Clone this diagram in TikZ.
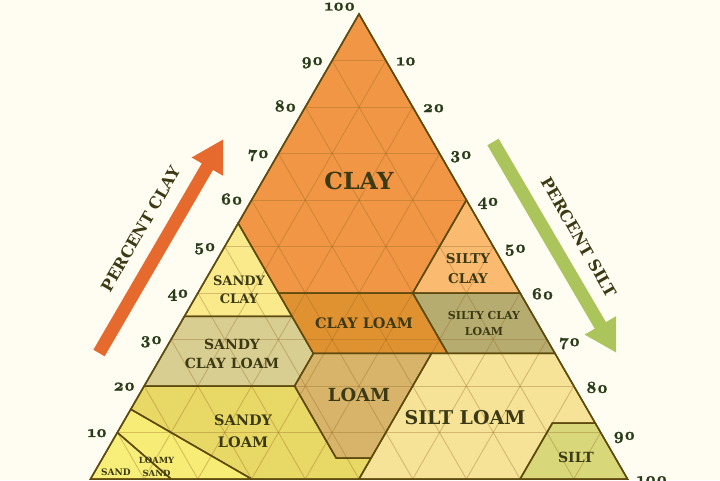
\documentclass[tikz,border=0pt]{standalone}
\usepackage{fontspec}
\setmainfont{DejaVu Serif}
\newfontfamily\numfont{lmroman10-bold}[Extension=.otf, Numbers=OldStyle, FakeBold=1.5]
\usetikzlibrary{arrows.meta}
\definecolor{bg}{RGB}{255,253,241}
\definecolor{cClay}{RGB}{240,150,68}
\definecolor{cSandyClay}{RGB}{250,234,140}
\definecolor{cSiltyClay}{RGB}{250,186,112}
\definecolor{cClayLoam}{RGB}{225,146,48}
\definecolor{cSiltyClayLoam}{RGB}{182,172,112}
\definecolor{cSandyClayLoam}{RGB}{216,206,146}
\definecolor{cLoam}{RGB}{216,180,106}
\definecolor{cSiltLoam}{RGB}{246,227,152}
\definecolor{cSilt}{RGB}{216,216,122}
\definecolor{cSandyLoam}{RGB}{232,216,102}
\definecolor{cLoamySand}{RGB}{246,236,118}
\definecolor{cSand}{RGB}{248,238,122}
\definecolor{gridc}{RGB}{150,105,35}
\definecolor{borderc}{RGB}{95,75,15}
\definecolor{txtc}{RGB}{60,58,20}
\definecolor{numc}{RGB}{40,60,25}
\definecolor{arrClay}{RGB}{230,105,45}
\definecolor{arrSilt}{RGB}{172,196,92}
\def\polyClay{(0,100) -- (0,55) -- (15,40) -- (40,40) -- (40,60) -- cycle}
\def\polySandyClay{(0,55) -- (0,35) -- (20,35) -- cycle}
\def\polySiltyClay{(40,60) -- (40,40) -- (60,40) -- cycle}
\def\polyClayLoam{(15,40) -- (28,27) -- (53,27) -- (40,40) -- cycle}
\def\polySiltyClayLoam{(40,40) -- (53,27) -- (73,27) -- (60,40) -- cycle}
\def\polySandyClayLoam{(0,35) -- (0,20) -- (28,20) -- (28,27) -- (20,35) -- cycle}
\def\polyLoam{(28,27) -- (28,20) -- (43.5,4.5) -- (50,4.5) -- (50,27) -- cycle}
\def\polySiltLoam{(50,27) -- (73,27) -- (88,12) -- (80,12) -- (80,0) -- (50,0) -- (50,4.5) -- cycle}
\def\polySilt{(80,12) -- (88,12) -- (100,0) -- (80,0) -- cycle}
\def\polySandyLoam{(0,20) -- (28,20) -- (43.5,4.5) -- (50,4.5) -- (50,0) -- (30,0) -- (0,15) -- cycle}
\def\polyLoamySand{(0,15) -- (30,0) -- (15,0) -- (0,10) -- cycle}
\def\polySand{(0,10) -- (15,0) -- (0,0) -- cycle}
\begin{document}
\begin{tikzpicture}[x=1pt,y=1pt,
  gridline/.style={draw=gridc, draw opacity=0.35, line width=0.9pt},
  border/.style={draw=borderc, line width=1.5pt, line join=miter},
  lab/.style={text=txtc, inner sep=0pt, align=center, font=\bfseries},
  num/.style={text=numc, inner sep=0pt, anchor=base, font=\numfont\fontsize{17}{17}\selectfont},
  bigarrow/.style={line width=13pt, -{Triangle[width=34pt,length=32pt]}}]
\fill[bg] (0,0) rectangle (720,480);
\useasboundingbox (0,0) rectangle (720,480);
\begin{scope}[shift={(90.5,1)}, x={(5.37pt,0pt)}, y={(2.685pt,4.65pt)}]
  \fill[cClay] \polyClay;
  \fill[cSandyClay] \polySandyClay;
  \fill[cSiltyClay] \polySiltyClay;
  \fill[cClayLoam] \polyClayLoam;
  \fill[cSiltyClayLoam] \polySiltyClayLoam;
  \fill[cSandyClayLoam] \polySandyClayLoam;
  \fill[cLoam] \polyLoam;
  \fill[cSiltLoam] \polySiltLoam;
  \fill[cSilt] \polySilt;
  \fill[cSandyLoam] \polySandyLoam;
  \fill[cLoamySand] \polyLoamySand;
  \fill[cSand] \polySand;
  \foreach \k in {10,20,...,90} {
    \draw[gridline] (0,\k) -- ({100-\k},\k);
    \draw[gridline] (\k,0) -- (\k,{100-\k});
    \draw[gridline] (\k,0) -- (0,\k);
  }
  \draw[border] \polyClay;
  \draw[border] \polySandyClay;
  \draw[border] \polySiltyClay;
  \draw[border] \polyClayLoam;
  \draw[border] \polySiltyClayLoam;
  \draw[border] \polySandyClayLoam;
  \draw[border] \polyLoam;
  \draw[border] \polySiltLoam;
  \draw[border] \polySilt;
  \draw[border] \polySandyLoam;
  \draw[border] \polyLoamySand;
  \draw[border] \polySand;
  \draw[border] (0,0) -- (0,100) -- (100,0) -- cycle;
\end{scope}
% region labels
\node[lab, font=\bfseries\fontsize{23.5}{24}\selectfont] (tClay) at (359,299) {CLAY};
\node[lab, font=\bfseries\fontsize{13}{18}\selectfont] (tSandyClay) at (239,190) {SANDY\\CLAY};
\node[lab, font=\bfseries\fontsize{13.5}{20}\selectfont] (tSiltyClay) at (468,211) {SILTY\\CLAY};
\node[lab, font=\bfseries\fontsize{14.5}{15}\selectfont] (tClayLoam) at (364,157) {CLAY LOAM};
\node[lab, font=\bfseries\fontsize{11}{16}\selectfont] (tSiltyClayLoam) at (484,157) {SILTY CLAY\\LOAM};
\node[lab, font=\bfseries\fontsize{14}{19}\selectfont] (tSandyClayLoam) at (232,126.5) {SANDY\\CLAY LOAM};
\node[lab, font=\bfseries\fontsize{18}{18}\selectfont] (tLoam) at (359,85) {LOAM};
\node[lab, font=\bfseries\fontsize{19}{19}\selectfont] (tSiltLoam) at (465,62) {SILT LOAM};
\node[lab, font=\bfseries\fontsize{14.5}{22}\selectfont] (tSandyLoam) at (243,49) {SANDY\\LOAM};
\node[lab, font=\bfseries\fontsize{8.5}{13}\selectfont] (tLoamySand) at (156.5,13.5) {LOAMY\\SAND};
\node[lab, font=\bfseries\fontsize{9}{9}\selectfont] (tSand) at (116,8) {SAND};
\node[lab, font=\bfseries\fontsize{14}{14}\selectfont] (tSilt) at (576,23) {SILT};
% axis numbers, clay (left)
\foreach \k in {10,20,...,90} {
  \node[num] (cl\k) at ({70.5+2.685*\k},{4.65*\k-3.5}) {\k};
}
\node[num] (cl100) at (340,469.5) {100};
% axis numbers, silt (right)
\foreach \k in {10,20,...,90} {
  \node[num] (sl\k) at ({379+2.725*\k},{461.5-4.68*\k}) {\k};
}
\node[num] (sl100) at (652,-4) {100};
% arrows
\coordinate (ca1) at (99,127);
\coordinate (ca2) at (223.5,341);
\draw[bigarrow, draw=arrClay, fill=arrClay] (ca1) -- (ca2);
\coordinate (sa1) at (493,338);
\coordinate (sa2) at (616.5,127);
\draw[bigarrow, draw=arrSilt, fill=arrSilt] (sa1) -- (sa2);
\node[lab, rotate=60, font=\bfseries\fontsize{16}{16}\selectfont] (pClay) at (141,251) {PERCENT CLAY};
\node[lab, rotate=-60, font=\bfseries\fontsize{16}{16}\selectfont] (pSilt) at (579,243) {PERCENT SILT};
\end{tikzpicture}
\end{document}
